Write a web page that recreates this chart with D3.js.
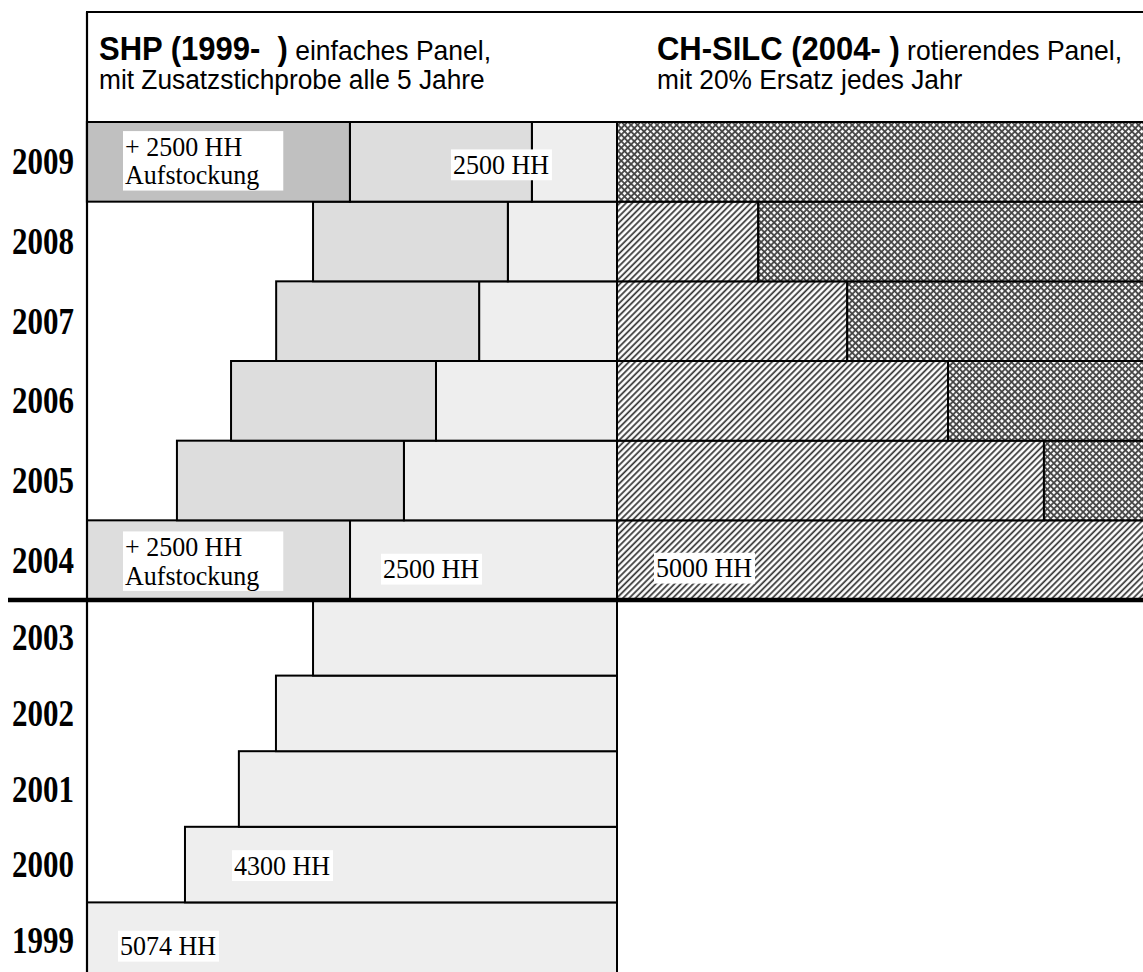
<!DOCTYPE html>
<html>
<head>
<meta charset="utf-8">
<script src="https://cdn.jsdelivr.net/npm/d3@7"></script>
<style>
  body { margin: 0; background: #fff; }
</style>
</head>
<body>
<svg id="chart"></svg>
<script>
const width = 1143, height = 972;

// rows
const upperYears = [2009, 2008, 2007, 2006, 2005, 2004];
const lowerYears = [2003, 2002, 2001, 2000, 1999];

// SHP: households still in the panel, per sample
const shpYears = [1999, 2000, 2001, 2002, 2003, 2004, 2005, 2006, 2007, 2008, 2009];
const shp1999  = [5074, 4136, 3620, 3265, 2910, 2556, 2040, 1733, 1320, 1045, 815];
const shp2004  = [0, 0, 0, 0, 0, 2518, 2173, 1962, 1943, 1865, 1742];
const shp2009  = [0, 0, 0, 0, 0, 0, 0, 0, 0, 0, 2518];
const shpMax = 5074;

// CH-SILC: first rotation group of 2004 vs. newer rotation groups
const silcYears = [2004, 2005, 2006, 2007, 2008, 2009];
const silcFirst = [5000, 4005, 3105, 2160, 1325, 0];
const silcTotal = 5000;

const headerBold = ["SHP (1999-  )", "CH-SILC (2004- )"];
const headerRest = [" einfaches Panel,", " rotierendes Panel,"];
const headerLine2 = ["mit Zusatzstichprobe alle 5 Jahre", "mit 20% Ersatz jedes Jahr"];

const cohortFill = {c1999: "#eeeeee", c2004: "#dddddd", c2009: "#c0c0c0"};

const svg = d3.select("#chart")
    .attr("width", width)
    .attr("height", height)
    .attr("viewBox", [0, 0, width, height]);

// scales
const xShp = d3.scaleLinear().domain([0, shpMax]).range([617, 87]);
const xSilc = d3.scaleLinear().domain([0, silcTotal]).range([617, 1150]);

const yUp = d3.scaleBand().domain(upperYears).range([122, 600]);
const yLow = d3.scaleBand().domain(lowerYears).range([600, 978]);
const yRow = yr => yr >= 2004 ? yUp(yr) : yLow(yr);
const hRow = yr => yr >= 2004 ? yUp.bandwidth() : yLow.bandwidth();

// patterns
const defs = svg.append("defs");
const hatch = defs.append("pattern")
    .attr("id", "hatch")
    .attr("patternUnits", "userSpaceOnUse")
    .attr("width", 4.4).attr("height", 4.4)
    .attr("patternTransform", "rotate(45)");
hatch.append("rect").attr("width", 4.4).attr("height", 4.4).attr("fill", "#fff");
hatch.append("line").attr("x1", 1.1).attr("x2", 1.1).attr("y1", 0).attr("y2", 4.4)
    .attr("stroke", "#333").attr("stroke-width", 1.7);

const cross = defs.append("pattern")
    .attr("id", "cross")
    .attr("patternUnits", "userSpaceOnUse")
    .attr("width", 4.6).attr("height", 4.6)
    .attr("patternTransform", "rotate(45)");
cross.append("rect").attr("width", 4.6).attr("height", 4.6).attr("fill", "#fff");
cross.append("line").attr("x1", 1).attr("x2", 1).attr("y1", 0).attr("y2", 4.6)
    .attr("stroke", "#444").attr("stroke-width", 1.8);
cross.append("line").attr("y1", 1).attr("y2", 1).attr("x1", 0).attr("x2", 4.6)
    .attr("stroke", "#444").attr("stroke-width", 1.8);

// SHP segments, stacked from the right edge to the left
var shpSegs = [];
shpYears.forEach((yr, i) => {
  var cum = 0;
  [["c1999", shp1999[i]], ["c2004", shp2004[i]], ["c2009", shp2009[i]]].forEach(([c, v]) => {
    if (v > 0) {
      shpSegs.push({year: yr, cohort: c, x0: cum, x1: cum + v});
      cum += v;
    }
  });
});

svg.append("g")
    .attr("class", "shp")
  .selectAll("rect")
  .data(shpSegs)
  .join("rect")
    .attr("x", d => xShp(d.x1))
    .attr("width", d => xShp(d.x0) - xShp(d.x1))
    .attr("y", d => yRow(d.year))
    .attr("height", d => hRow(d.year))
    .attr("fill", d => cohortFill[d.cohort])
    .attr("stroke", "#000")
    .attr("stroke-width", 2);

// CH-SILC segments
var silcSegs = [];
silcYears.forEach((yr, i) => {
  if (silcFirst[i] > 0) silcSegs.push({year: yr, x0: 0, x1: silcFirst[i], fill: "url(#hatch)"});
  if (silcFirst[i] < silcTotal) silcSegs.push({year: yr, x0: silcFirst[i], x1: silcTotal, fill: "url(#cross)"});
});

svg.append("g")
    .attr("class", "silc")
  .selectAll("rect")
  .data(silcSegs)
  .join("rect")
    .attr("x", d => xSilc(d.x0))
    .attr("width", d => xSilc(d.x1) - xSilc(d.x0))
    .attr("y", d => yRow(d.year))
    .attr("height", d => hRow(d.year))
    .attr("fill", d => d.fill)
    .attr("stroke", "#000")
    .attr("stroke-width", 2);

// frame
svg.append("line")
    .attr("x1", xShp(shpMax)).attr("x2", xShp(shpMax))
    .attr("y1", 12).attr("y2", height)
    .attr("stroke", "#000").attr("stroke-width", 2.2);
svg.append("line")
    .attr("x1", xShp(shpMax) - 1).attr("x2", width)
    .attr("y1", 12).attr("y2", 12)
    .attr("stroke", "#000").attr("stroke-width", 2.2);
// separator between 2003 and 2004
svg.append("line")
    .attr("x1", 8).attr("x2", width)
    .attr("y1", yUp.range()[1]).attr("y2", yUp.range()[1])
    .attr("stroke", "#000").attr("stroke-width", 4.5);

// year labels
svg.append("g")
    .attr("class", "years")
  .selectAll("g")
  .data(upperYears.concat(lowerYears))
  .join("g")
    .attr("transform", d => `translate(12,${yRow(d) + hRow(d) / 2}) scale(1,1.2)`)
  .append("text")
    .attr("dy", "0.34em")
    .attr("font-family", "Liberation Serif, Times New Roman, serif")
    .attr("font-weight", "bold")
    .attr("font-size", 31)
    .text(d => d);

// headers
[xShp(shpMax) + 12, xSilc(0) + 40].forEach((hx, i) => {
  const g = svg.append("g").attr("transform", `translate(${hx},0) scale(1,1.05)`);
  const t1 = g.append("text")
      .attr("y", 60 / 1.05)
      .attr("font-family", "Liberation Sans, Arial, sans-serif")
      .style("white-space", "pre");
  t1.append("tspan").attr("font-weight", "bold").attr("font-size", 31).text(headerBold[i]);
  t1.append("tspan").attr("font-size", 26.5).text(headerRest[i]);
  g.append("text")
      .attr("y", 89 / 1.05)
      .attr("font-family", "Liberation Sans, Arial, sans-serif")
      .attr("font-size", 26.3)
      .text(headerLine2[i]);
});

// labels with white boxes
function boxLabel(x, yc, lines, padRight) {
  const g = svg.append("g").attr("class", "label")
      .attr("transform", `translate(${x},${yc}) scale(1,1.06)`);
  const inner = g.append("g");
  const t = inner.append("text")
      .attr("font-family", "Liberation Serif, Times New Roman, serif")
      .attr("font-size", 26)
      .attr("fill", "#000");
  lines.forEach((l, i) => t.append("tspan").attr("x", 2).attr("dy", i ? 27 : 0).text(l));
  const bb = t.node().getBBox();
  inner.attr("transform", `translate(0,${-(bb.y + bb.height / 2)})`);
  inner.insert("rect", "text")
      .attr("x", 0).attr("y", bb.y)
      .attr("width", bb.width + 2 + padRight)
      .attr("height", bb.height)
      .attr("fill", "#fff");
}

const mid = yr => yRow(yr) + hRow(yr) / 2;
const i09 = shpYears.indexOf(2009), i04 = shpYears.indexOf(2004);

boxLabel(xShp(shpMax) + 36, mid(2009) - 1, ["+ 2500 HH", "Aufstockung"], 24);
boxLabel(xShp(shp1999[i09] + shp2004[i09]) + 101, mid(2009) + 3, ["2500 HH"], 3);
boxLabel(xShp(shpMax) + 36, mid(2004) + 1, ["+ 2500 HH", "Aufstockung"], 24);
boxLabel(xShp(shp1999[i04]) + 31, mid(2004) + 9, ["2500 HH"], 3);
boxLabel(xSilc(0) + 37, mid(2004) + 8, ["5000 HH"], 3);
boxLabel(xShp(shp1999[shpYears.indexOf(2000)]) + 47, mid(2000) + 1, ["4300 HH"], 3);
boxLabel(xShp(shp1999[0]) + 31, mid(1999) + 6, ["5074 HH"], 3);
</script>
</body>
</html>
